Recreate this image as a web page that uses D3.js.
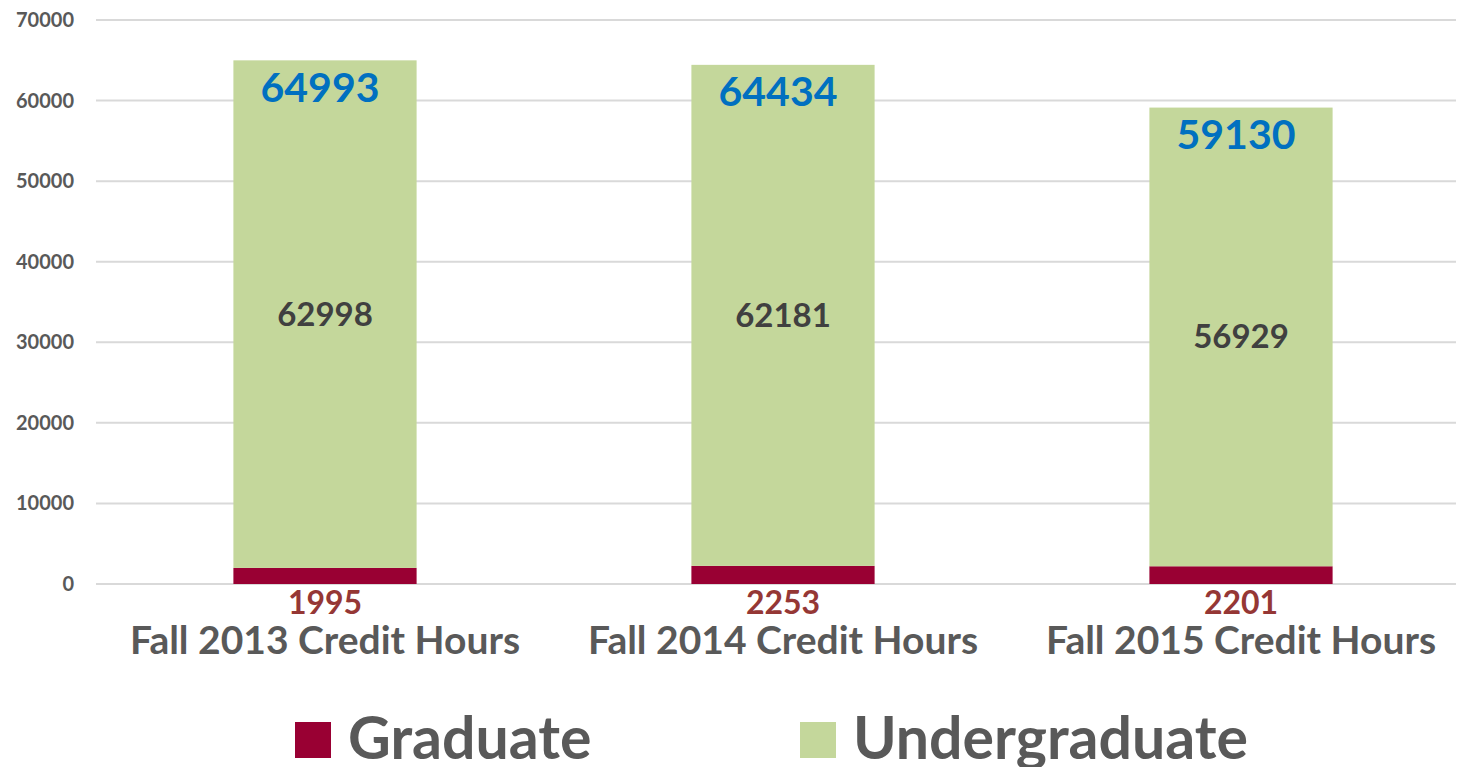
<!DOCTYPE html>
<html>
<head>
<meta charset="utf-8">
<script src="https://cdn.jsdelivr.net/npm/d3@7"></script>
<style>
  body { margin: 0; background: #fff; }
  text { font-family: Lato, "Noto Sans", sans-serif; font-weight: bold; }
</style>
</head>
<body>
<script>
var categories = ["Fall 2013 Credit Hours", "Fall 2014 Credit Hours", "Fall 2015 Credit Hours"];
var graduate = [1995, 2253, 2201];
var undergraduate = [62998, 62181, 56929];
var totals = [64993, 64434, 59130];
var yTicks = [0, 10000, 20000, 30000, 40000, 50000, 60000, 70000];

var svg = d3.select("body").append("svg")
    .attr("width", 1459)
    .attr("height", 767);

var gridLeft = 96, gridRight = 1456;

var x = d3.scaleBand()
    .domain(categories)
    .range([96, 1470])
    .paddingInner(0.6)
    .paddingOuter(0.3);

var y = d3.scaleLinear()
    .domain([0, 70000])
    .range([584, 20]);

// gridlines
svg.append("g").selectAll("line")
    .data(yTicks)
    .join("line")
    .attr("x1", gridLeft)
    .attr("x2", gridRight)
    .attr("y1", function(d) { return y(d); })
    .attr("y2", function(d) { return y(d); })
    .attr("stroke", "#d9d9d9")
    .attr("stroke-width", 2);

// y axis labels
svg.append("g").selectAll("text")
    .data(yTicks)
    .join("text")
    .attr("x", 74)
    .attr("y", function(d) { return y(d); })
    .attr("dy", "0.35em")
    .attr("text-anchor", "end")
    .attr("fill", "#595959")
    .attr("font-size", 20)
    .text(function(d) { return d; });

var rows = categories.map(function(c, i) {
    return {cat: c, grad: graduate[i], under: undergraduate[i], total: totals[i]};
});

var bars = svg.append("g");

bars.selectAll("rect.grad")
    .data(rows)
    .join("rect")
    .attr("class", "grad")
    .attr("x", function(d) { return x(d.cat); })
    .attr("width", x.bandwidth())
    .attr("y", function(d) { return y(d.grad); })
    .attr("height", function(d) { return y(0) - y(d.grad); })
    .attr("fill", "#990033");

bars.selectAll("rect.under")
    .data(rows)
    .join("rect")
    .attr("class", "under")
    .attr("x", function(d) { return x(d.cat); })
    .attr("width", x.bandwidth())
    .attr("y", function(d) { return y(d.grad + d.under); })
    .attr("height", function(d) { return y(d.grad) - y(d.grad + d.under); })
    .attr("fill", "#c4d79b");

var cx = function(d) { return x(d.cat) + x.bandwidth() / 2; };

// undergraduate value labels
svg.append("g").selectAll("text")
    .data(rows)
    .join("text")
    .attr("x", cx)
    .attr("y", function(d) { return y(d.grad + d.under / 2); })
    .attr("dy", "0.35em")
    .attr("text-anchor", "middle")
    .attr("fill", "#404040")
    .attr("font-size", 33)
    .text(function(d) { return d.under; });

// totals
svg.append("g").selectAll("text")
    .data(rows)
    .join("text")
    .attr("x", function(d) { return cx(d) - 5; })
    .attr("y", function(d) { return y(d.total) + 27; })
    .attr("dy", "0.35em")
    .attr("text-anchor", "middle")
    .attr("fill", "#0070c0")
    .attr("font-size", 41)
    .text(function(d) { return d.total; });

// graduate labels below axis
svg.append("g").selectAll("text")
    .data(rows)
    .join("text")
    .attr("x", cx)
    .attr("y", 603)
    .attr("dy", "0.35em")
    .attr("text-anchor", "middle")
    .attr("fill", "#953735")
    .attr("font-size", 32)
    .text(function(d) { return d.grad; });

// category labels
svg.append("g").selectAll("text")
    .data(rows)
    .join("text")
    .attr("x", cx)
    .attr("y", 640)
    .attr("dy", "0.35em")
    .attr("text-anchor", "middle")
    .attr("fill", "#595959")
    .attr("font-size", 39)
    .text(function(d) { return d.cat; });

// legend
var legendItems = [
    {name: "Graduate", color: "#990033", x: 295},
    {name: "Undergraduate", color: "#c4d79b", x: 800}
];
var lg = svg.append("g").selectAll("g")
    .data(legendItems)
    .join("g")
    .attr("transform", function(d) { return "translate(" + d.x + ",722)"; });
lg.append("rect")
    .attr("width", 36)
    .attr("height", 36)
    .attr("fill", function(d) { return d.color; });
lg.append("text")
    .attr("x", 53)
    .attr("y", 16)
    .attr("dy", "0.35em")
    .attr("fill", "#595959")
    .attr("font-size", 59)
    .text(function(d) { return d.name; });
</script>
</body>
</html>
